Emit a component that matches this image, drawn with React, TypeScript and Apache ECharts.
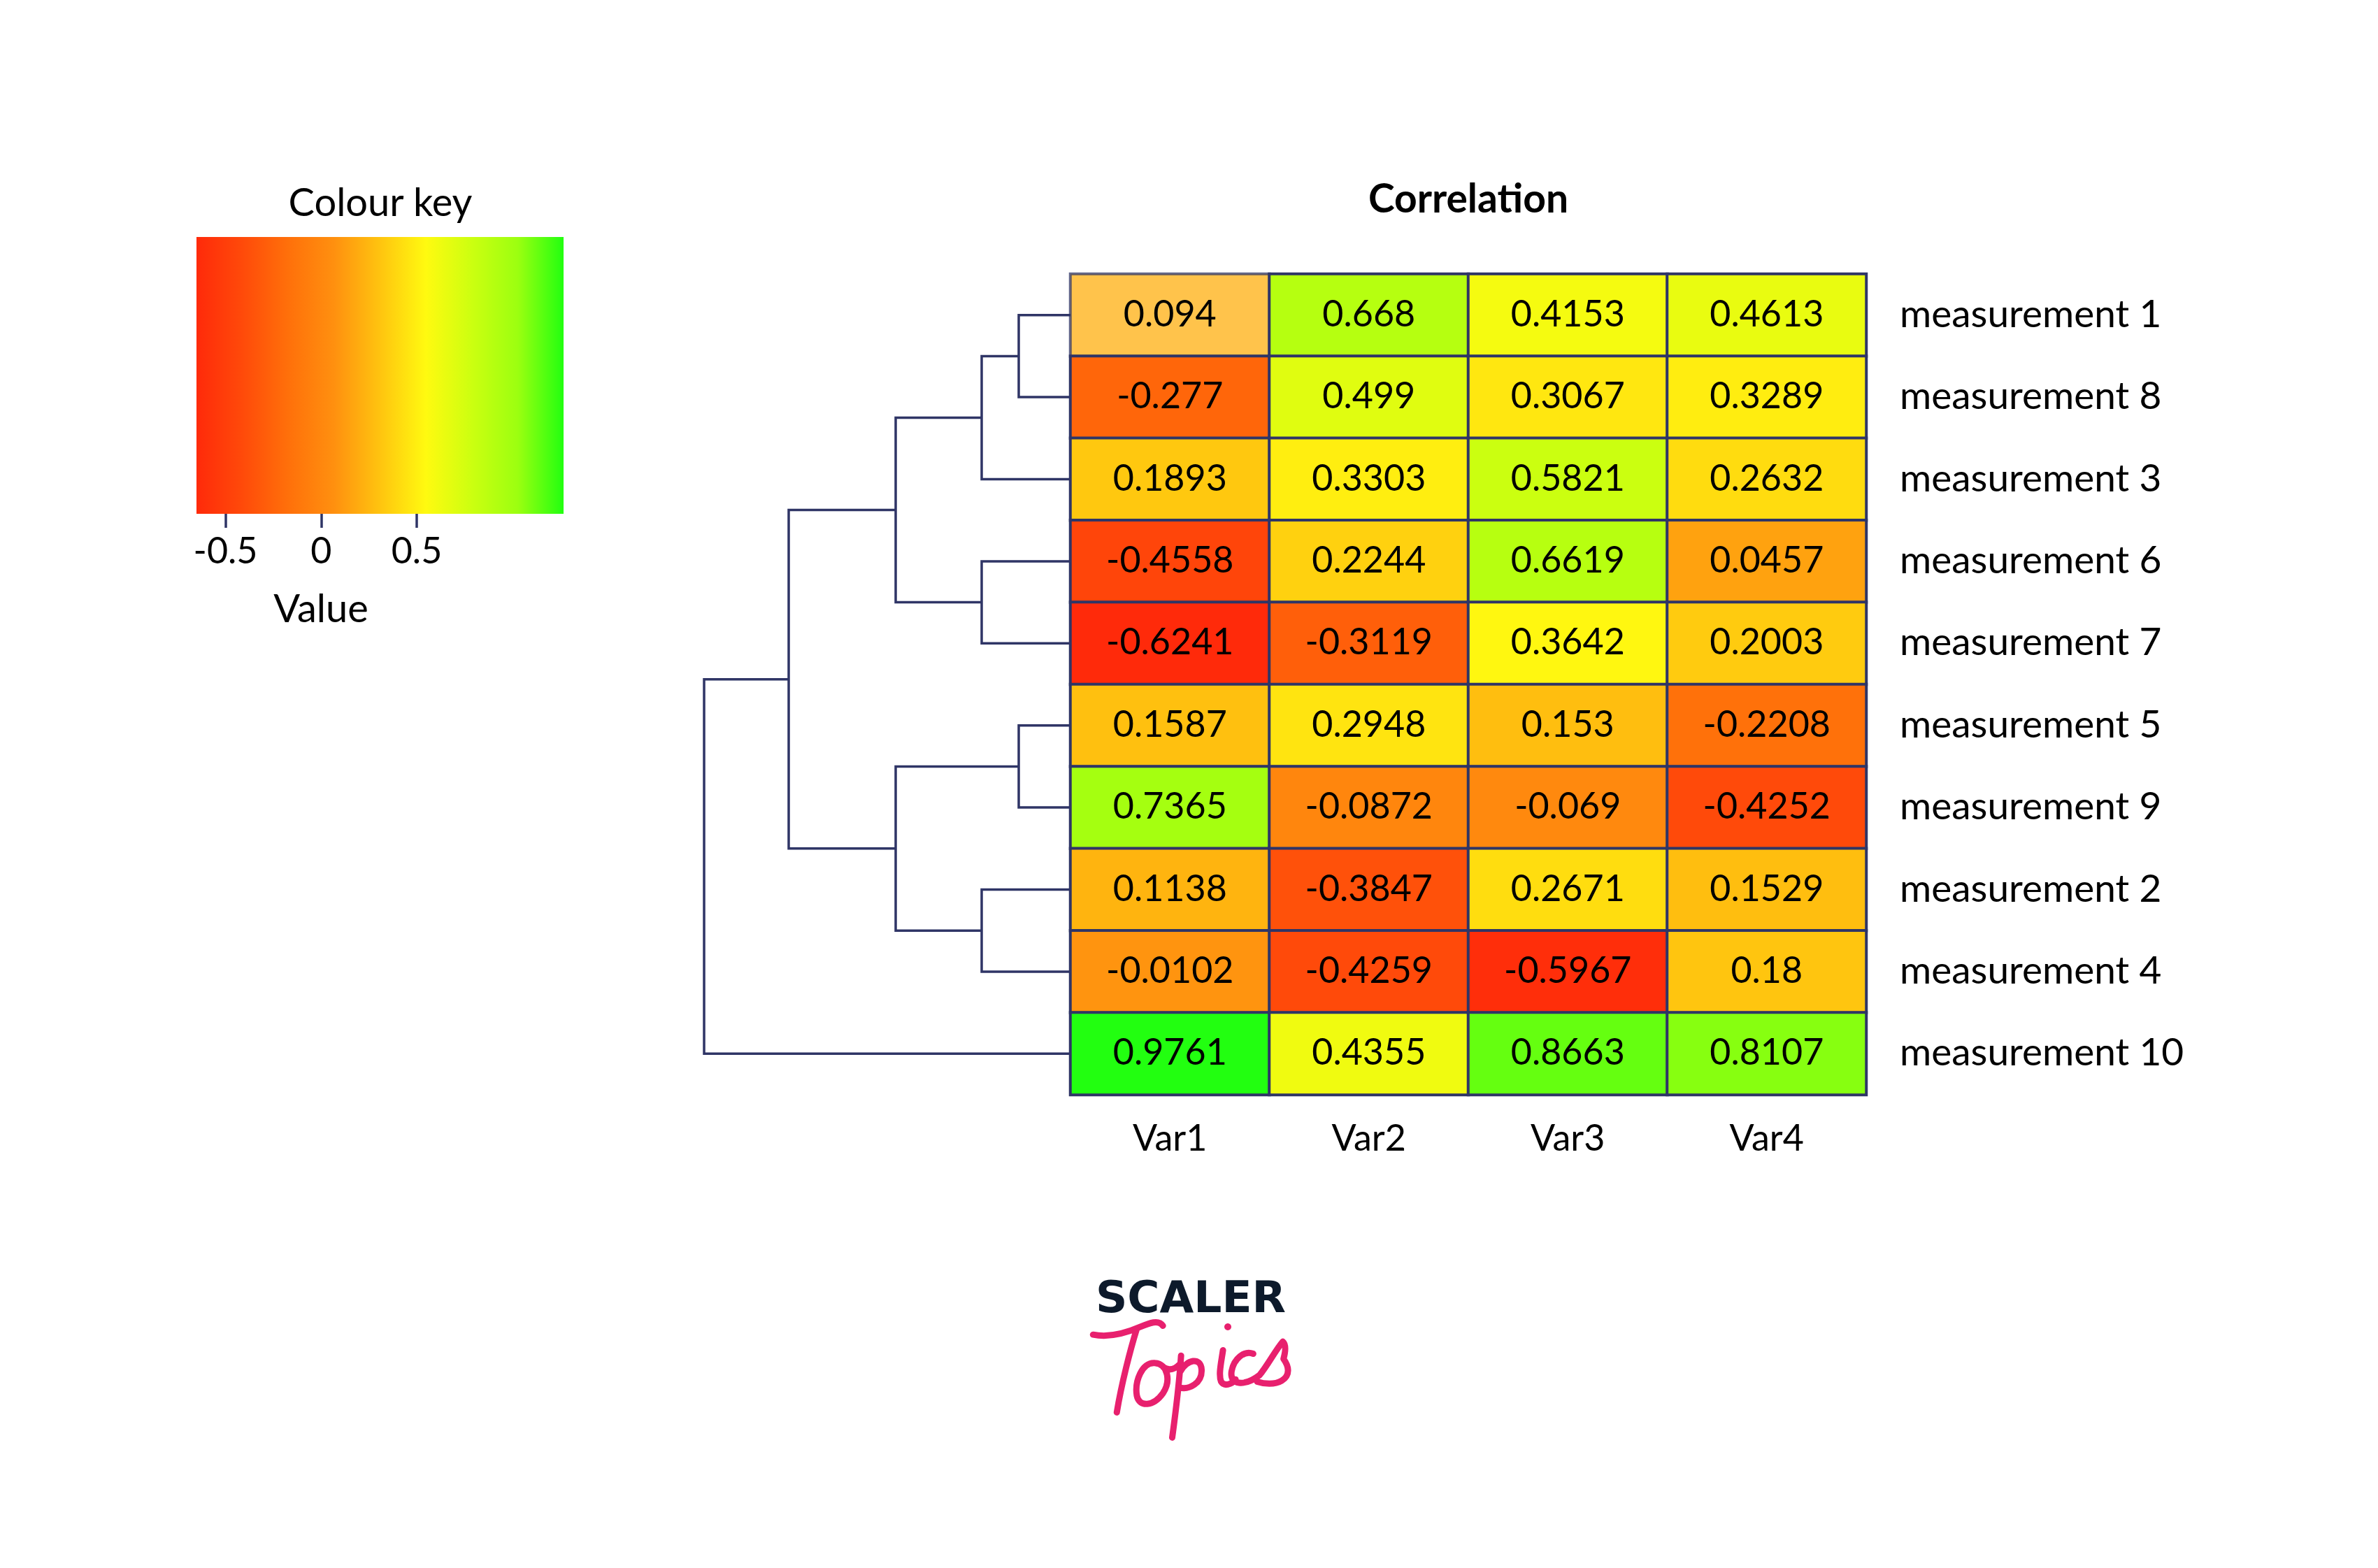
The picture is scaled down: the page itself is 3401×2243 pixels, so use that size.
import React, { useEffect, useRef } from 'react';
import * as echarts from 'echarts';

// ---------------- data ----------------
const columns = ['Var1', 'Var2', 'Var3', 'Var4'];
const rows = [
  'measurement 1', 'measurement 8', 'measurement 3', 'measurement 6', 'measurement 7',
  'measurement 5', 'measurement 9', 'measurement 2', 'measurement 4', 'measurement 10',
];
const var1 = [0.094, -0.277, 0.1893, -0.4558, -0.6241, 0.1587, 0.7365, 0.1138, -0.0102, 0.9761];
const var2 = [0.668, 0.499, 0.3303, 0.2244, -0.3119, 0.2948, -0.0872, -0.3847, -0.4259, 0.4355];
const var3 = [0.4153, 0.3067, 0.5821, 0.6619, 0.3642, 0.153, -0.069, 0.2671, -0.5967, 0.8663];
const var4 = [0.4613, 0.3289, 0.2632, 0.0457, 0.2003, -0.2208, -0.4252, 0.1529, 0.18, 0.8107];
const columnValues = [var1, var2, var3, var4];

// dendrogram merges (row clustering), heights in distance units
const merges = [
  { id: 'n1', left: 'measurement 1', right: 'measurement 8', height: 0.74 },
  { id: 'n2', left: 'n1', right: 'measurement 3', height: 1.27 },
  { id: 'n3', left: 'measurement 6', right: 'measurement 7', height: 1.27 },
  { id: 'n4', left: 'n2', right: 'n3', height: 2.5 },
  { id: 'n5', left: 'measurement 5', right: 'measurement 9', height: 0.74 },
  { id: 'n6', left: 'measurement 2', right: 'measurement 4', height: 1.27 },
  { id: 'n7', left: 'n5', right: 'n6', height: 2.5 },
  { id: 'n8', left: 'n4', right: 'n7', height: 4.03 },
  { id: 'n9', left: 'n8', right: 'measurement 10', height: 5.24 },
];

// colour key
const keyTicks = [-0.5, 0, 0.5];
const keyAxisMin = -0.652;
const keyAxisMax = 1.268;
const colourStops = ['#ff2a0a', '#ff4a0a', '#ff700a', '#ff900f', '#ffc40f', '#fffa10', '#ccff10', '#9cff10', '#22ff10'];

// cell shown highlighted (hover state in original)
const highlightedCell = { row: 'measurement 1', column: 'Var1' };

// ---------------- style ----------------
const FONT = 'Lato';
const NAVY = '#2f3566';
const FS = 52;
const ROW_FS = 55;

const TOPICS_PATH =
  'M190,388 C260,402 330,382 392,355 C432,338 472,322 490,350 ' +
  'M378,362 C350,452 312,600 292,722 ' +
  'M455,510 C400,505 368,590 378,650 C388,702 450,696 490,640 C524,590 514,514 455,510 ' +
  'M492,528 C516,544 540,538 562,515 ' +
  'M568,478 C560,600 545,720 530,830 ' +
  'M566,545 C592,495 652,482 656,537 C660,597 602,626 560,615 ' +
  'M748,455 C740,510 728,560 740,590 C752,612 785,602 802,580 ' +
  'M878,470 C840,455 795,490 785,545 C775,605 840,612 905,562 ' +
  'M905,562 C940,520 975,452 1005,418 C1022,432 1014,470 1008,492 C1030,522 1040,562 1000,586 C970,604 925,600 895,590';

echarts.graphic.registerShape('topicsLogo', echarts.graphic.extendPath(TOPICS_PATH, {}));

export default function App() {
  const ref = useRef<HTMLDivElement>(null);

  useEffect(() => {
    document.body.style.margin = '0';
    document.body.style.overflow = 'hidden';
    if (!ref.current) return;
    const chart = echarts.init(ref.current, null, { renderer: 'svg' });

    const all = columnValues.flat();
    const vMin = Math.min(...all);
    const vMax = Math.max(...all);

    const heatData: any[] = [];
    columnValues.forEach((vals, ci) => {
      vals.forEach((v, ri) => {
        const item: any = { value: [ci, ri, v] };
        if (rows[ri] === highlightedCell.row && columns[ci] === highlightedCell.column) {
          item.itemStyle = { opacity: 0.75 };
          item.label = { opacity: 1, color: '#000' };
        }
        heatData.push(item);
      });
    });

    const pos: Record<string, { y: number; h: number }> = {};
    rows.forEach((r, i) => { pos[r] = { y: i + 0.5, h: 0 }; });
    const dendroLines = merges.map((m) => {
      const L = pos[m.left];
      const R = pos[m.right];
      pos[m.id] = { y: (L.y + R.y) / 2, h: m.height };
      return { coords: [[L.h, L.y], [m.height, L.y], [m.height, R.y], [R.h, R.y]] };
    });
    const rootHeight = merges[merges.length - 1].height;

    const gradient = new echarts.graphic.LinearGradient(
      0, 0, 1, 0,
      colourStops.map((c, i) => ({ offset: i / (colourStops.length - 1), color: c }))
    );

    const option: any = {
      animation: false,
      backgroundColor: '#ffffff',
      textStyle: { fontFamily: FONT },
      grid: [
        { left: 1531, top: 392, width: 1138, height: 1174 },
        { left: 1007, top: 392, width: 524, height: 1174 },
        { left: 281, top: 339, width: 525, height: 396 },
      ],
      xAxis: [
        {
          gridIndex: 0, type: 'category', data: columns, position: 'bottom',
          axisLine: { show: false }, axisTick: { show: false },
          axisLabel: { fontSize: FS, color: '#000', fontFamily: FONT, margin: 34 },
        },
        { gridIndex: 1, type: 'value', min: 0, max: rootHeight, inverse: true, show: false },
        {
          gridIndex: 2, type: 'value', min: keyAxisMin, max: keyAxisMax, position: 'bottom',
          axisLine: { show: false }, splitLine: { show: false },
          axisTick: { show: true, customValues: keyTicks, length: 20, lineStyle: { color: NAVY, width: 3.5 } },
          axisLabel: { show: true, customValues: keyTicks, fontSize: FS, color: '#000', fontFamily: FONT, margin: 25,
            formatter: (v: number) => String(v) },
        },
      ],
      yAxis: [
        {
          gridIndex: 0, type: 'category', data: rows, inverse: true, position: 'right',
          axisLine: { show: false }, axisTick: { show: false },
          axisLabel: {
            fontSize: ROW_FS, color: '#000', fontFamily: FONT, margin: 48,
            formatter: (v: string) => `{r|${v}}`,
            rich: { r: { fontSize: ROW_FS, color: '#000', fontFamily: FONT, padding: [0, 0, 8, 0] } },
          },
        },
        { gridIndex: 1, type: 'value', min: 0, max: rows.length, inverse: true, show: false },
        { gridIndex: 2, type: 'value', min: 0, max: 1, show: false },
      ],
      visualMap: {
        show: false, type: 'continuous', seriesIndex: 0, dimension: 2,
        min: vMin, max: vMax, inRange: { color: colourStops },
      },
      series: [
        {
          type: 'heatmap', xAxisIndex: 0, yAxisIndex: 0, data: heatData,
          label: { show: true, fontSize: FS, color: '#000', fontFamily: FONT, offset: [0, -4],
            formatter: (p: any) => String(p.value[2]) },
          itemStyle: { borderColor: NAVY, borderWidth: 4 },
          emphasis: { disabled: true },
        },
        {
          type: 'lines', coordinateSystem: 'cartesian2d', xAxisIndex: 1, yAxisIndex: 1,
          polyline: true, clip: false, silent: true,
          lineStyle: { color: NAVY, width: 3.5, opacity: 1 },
          data: dendroLines,
        },
      ],
      graphic: [
        {
          type: 'rect', x: 281, y: 339, shape: { width: 525, height: 396 },
          style: { fill: gradient }, silent: true,
        },
        {
          type: 'text', x: 2100, y: 282,
          style: { text: 'Correlation', fontSize: 57, fontWeight: 'bold', fontFamily: FONT, fill: '#000', align: 'center', verticalAlign: 'middle' },
        },
        {
          type: 'text', x: 544, y: 287,
          style: { text: 'Colour key', fontSize: 56, fontFamily: FONT, fill: '#000', align: 'center', verticalAlign: 'middle' },
        },
        {
          type: 'text', x: 459, y: 868,
          style: { text: 'Value', fontSize: 56, fontFamily: FONT, fill: '#000', align: 'center', verticalAlign: 'middle' },
        },
        {
          type: 'text', x: 1703, y: 1855,
          style: { text: 'SCALER', fontSize: 63, fontWeight: 'bold', fontFamily: 'DejaVu Sans', fill: '#0d1a2b', align: 'center', verticalAlign: 'middle' },
        },
        {
          type: 'topicsLogo', x: 1500, y: 1780, scaleX: 1 / 3, scaleY: 1 / 3,
          style: { fill: 'none', stroke: '#e8206e', lineWidth: 27, lineCap: 'round', lineJoin: 'round' },
        },
        {
          type: 'circle', shape: { cx: 1756, cy: 1898, r: 5 },
          style: { fill: '#e8206e' },
        },
      ],
    };

    chart.setOption(option);
    return () => chart.dispose();
  }, []);

  return <div ref={ref} style={{ width: 3401, height: 2243 }} />;
}
